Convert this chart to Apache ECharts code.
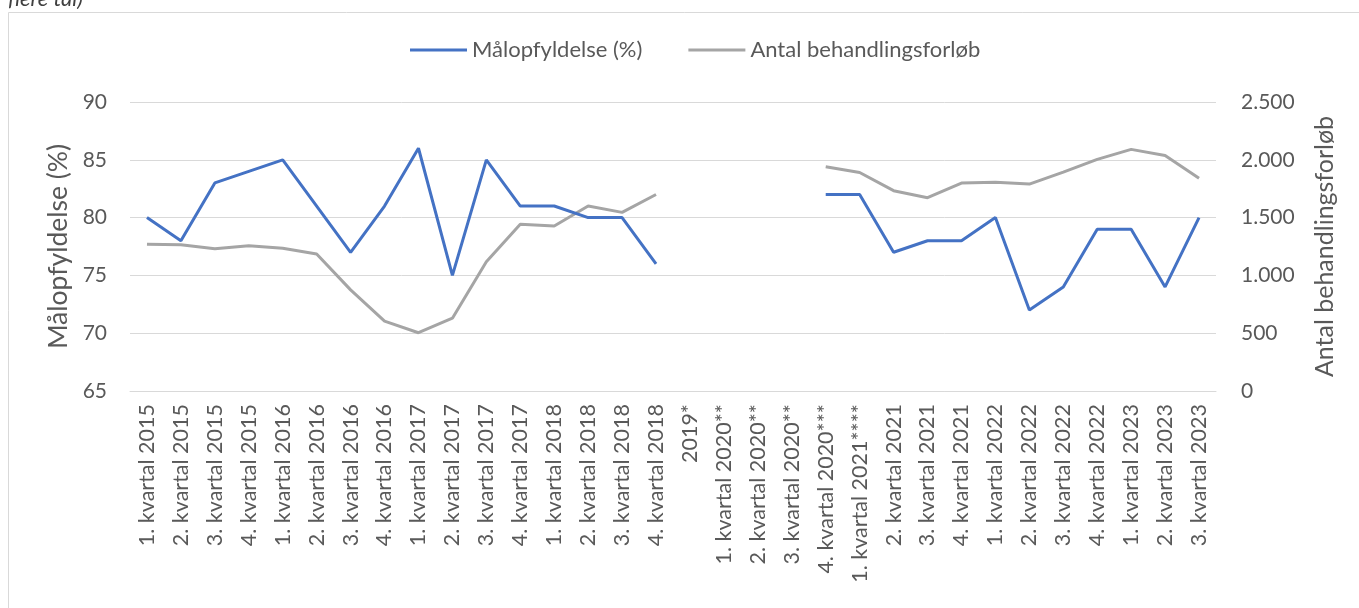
<!DOCTYPE html>
<html>
<head>
<meta charset="utf-8">
<script src="https://cdn.jsdelivr.net/npm/echarts@6/dist/echarts.min.js"></script>
<style>html,body{margin:0;padding:0;background:#fff;}#c{width:1359px;height:608px;}</style>
</head>
<body>
<div id="c"></div>
<script>
const categories = [
  "1. kvartal 2015","2. kvartal 2015","3. kvartal 2015","4. kvartal 2015",
  "1. kvartal 2016","2. kvartal 2016","3. kvartal 2016","4. kvartal 2016",
  "1. kvartal 2017","2. kvartal 2017","3. kvartal 2017","4. kvartal 2017",
  "1. kvartal 2018","2. kvartal 2018","3. kvartal 2018","4. kvartal 2018",
  "2019*","1. kvartal 2020**","2. kvartal 2020**","3. kvartal 2020**",
  "4. kvartal 2020***","1. kvartal 2021****","2. kvartal 2021","3. kvartal 2021",
  "4. kvartal 2021","1. kvartal 2022","2. kvartal 2022","3. kvartal 2022",
  "4. kvartal 2022","1. kvartal 2023","2. kvartal 2023","3. kvartal 2023"
];
const maalopfyldelse = [
  80,78,83,84, 85,81,77,81, 86,75,85,81, 81,80,80,76,
  null,null,null,null,
  82,82,77,78, 78,80,72,74, 79,79,74,80
];
const antalForloeb = [
  1270,1265,1230,1257, 1234,1185,875,605, 504,630,1118,1442, 1427,1600,1545,1700,
  null,null,null,null,
  1940,1890,1733,1672, 1799,1805,1790,1894, 2004,2090,2038,1840
];
const leftTicks = [65, 90, 5];
const rightTicks = [0, 2500, 500];
const seriesNames = ["Målopfyldelse (%)", "Antal behandlingsforløb"];

const FONT = "Lato, 'Open Sans', sans-serif";
const chart = echarts.init(document.getElementById('c'), null, {renderer:'canvas'});
chart.setOption({
  animation:false,
  backgroundColor:'#fff',
  textStyle:{fontFamily:FONT},
  graphic:[
    {type:'rect', shape:{x:8.5,y:12.5,width:1400,height:700}, style:{fill:'none',stroke:'#d9d9d9',lineWidth:1}, silent:true},
    {type:'text', x:8, y:10, style:{text:'flere tal)', font:'italic 22px '+FONT, fill:'#404040', verticalAlign:'bottom'}}
  ],
  legend:{
    left:405, top:34, itemGap:46, itemWidth:57, itemHeight:3, icon:'rect',
    textStyle:{fontSize:22, color:'#595959', fontFamily:FONT, padding:[0,0,0,0]},
    data:seriesNames
  },
  grid:{left:130, right:143, top:102, bottom:217, containLabel:false},
  xAxis:{
    type:'category', data:categories, boundaryGap:true,
    axisLine:{show:true, lineStyle:{color:'#d9d9d9', width:1}},
    axisTick:{show:false},
    axisLabel:{rotate:90, interval:0, fontSize:21.5, color:'#595959', margin:13, fontFamily:FONT}
  },
  yAxis:[
    {
      type:'value', min:leftTicks[0], max:leftTicks[1], interval:leftTicks[2],
      name:seriesNames[0], nameLocation:'middle', nameGap:56, nameRotate:90,
      nameTextStyle:{fontSize:26.5, color:'#595959', fontFamily:FONT},
      axisLine:{show:false}, axisTick:{show:false},
      axisLabel:{fontSize:21, color:'#595959', margin:23, fontFamily:FONT},
      splitLine:{lineStyle:{color:'#d9d9d9', width:1}}
    },
    {
      type:'value', min:rightTicks[0], max:rightTicks[1], interval:rightTicks[2],
      name:seriesNames[1], nameLocation:'middle', nameGap:96, nameRotate:90,
      nameTextStyle:{fontSize:25, color:'#595959', fontFamily:FONT},
      axisLine:{show:false}, axisTick:{show:false},
      axisLabel:{fontSize:21, color:'#595959', margin:25, fontFamily:FONT,
        formatter:v=>v.toLocaleString('da-DK')},
      splitLine:{show:false}
    }
  ],
  series:[
    {name:seriesNames[0], type:'line', yAxisIndex:0, data:maalopfyldelse, symbol:'none',
     connectNulls:false, lineStyle:{color:'#4472C4', width:3}, itemStyle:{color:'#4472C4'}, z:3},
    {name:seriesNames[1], type:'line', yAxisIndex:1, data:antalForloeb, symbol:'none',
     connectNulls:false, lineStyle:{color:'#A5A5A5', width:3}, itemStyle:{color:'#A5A5A5'}, z:2}
  ]
});
</script>
</body>
</html>
